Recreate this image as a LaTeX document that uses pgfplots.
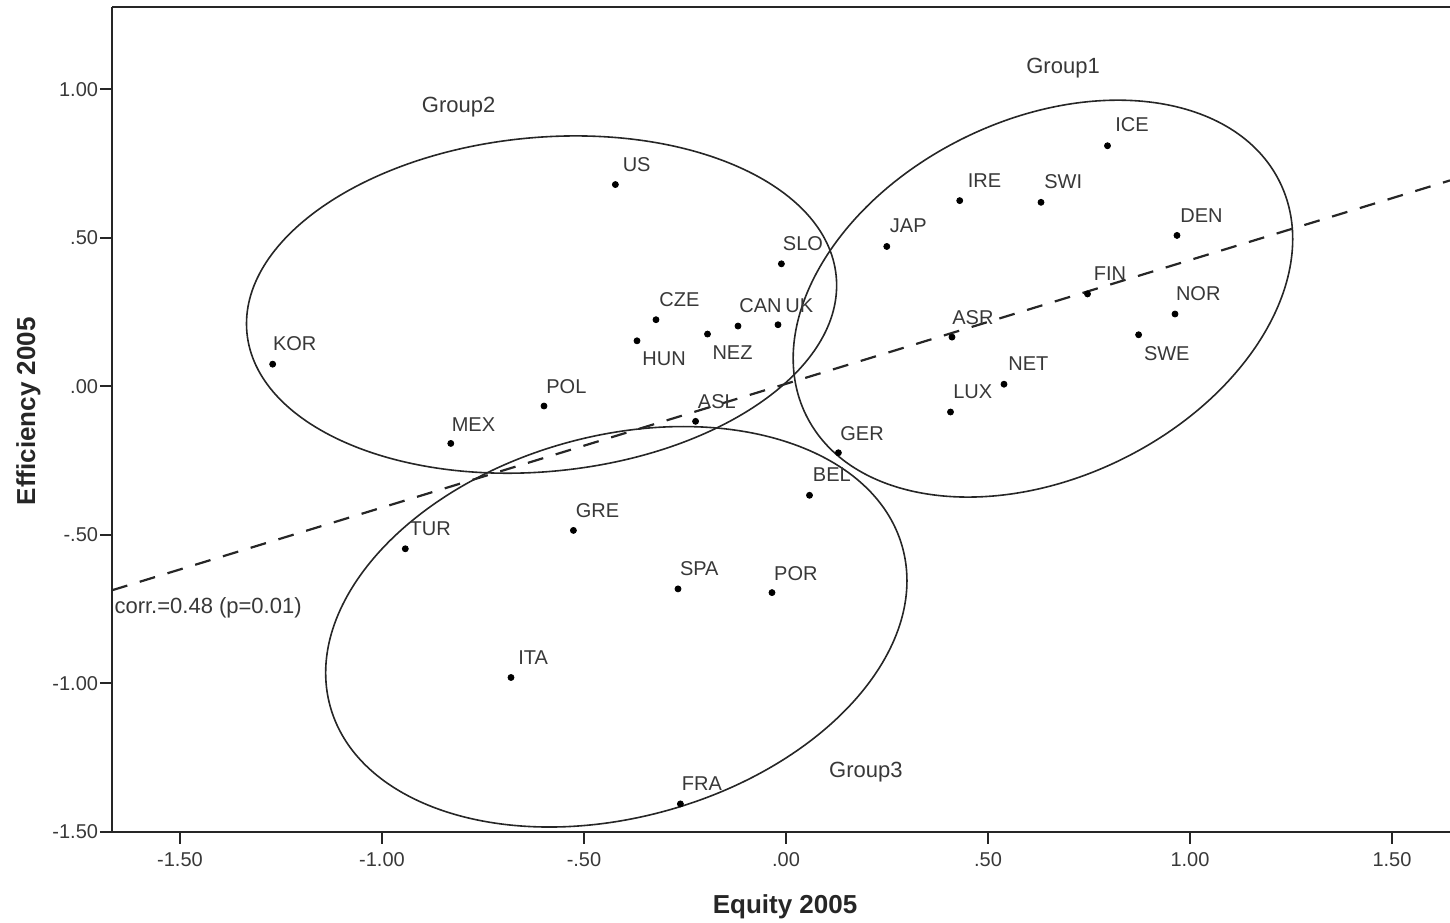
\documentclass[border=0pt]{standalone}
\usepackage{fontspec}
\setmainfont{Liberation Sans}
\usepackage{pgfplots}
\usepackage{pgfplotstable}
\pgfplotsset{compat=1.18}
\definecolor{txt}{HTML}{383838}
\definecolor{ln}{HTML}{262626}

\pgfplotstableread{
label x y dx dy
KOR -1.2706 0.0743 0.0 7.0
MEX -0.8297 -0.1926 0.3 6.0
POL -0.5990 -0.0666 1.0 6.5
US -0.4223 0.6791 3.5 6.5
CZE -0.3218 0.2240 1.5 6.7
HUN -0.3688 0.1530 2.5 -12.2
NEZ -0.1943 0.1757 2.3 -12.5
CAN -0.1188 0.2027 0.5 7.0
UK -0.0198 0.2071 3.5 6.3
SLO -0.0114 0.4122 0.6 6.7
ASL -0.2238 -0.1182 1.0 6.5
JAP 0.2495 0.4706 1.4 6.8
IRE 0.4300 0.6250 3.9 6.6
SWI 0.6312 0.6193 1.5 6.8
ICE 0.7958 0.8098 3.7 7.0
DEN 0.9678 0.5078 1.5 6.3
FIN 0.7463 0.3108 3.0 6.6
NOR 0.9629 0.2432 0.3 7.0
SWE 0.8728 0.1733 2.5 -12.7
ASR 0.4109 0.1655 0.0 6.5
NET 0.5396 0.0068 2.0 6.7
LUX 0.4072 -0.0868 1.2 6.7
GER 0.1297 -0.2240 0.8 6.3
BEL 0.0582 -0.3672 1.5 7.0
GRE -0.5262 -0.4855 1.0 6.7
TUR -0.9423 -0.5473 2.0 6.6
SPA -0.2673 -0.6824 0.8 6.6
POR -0.0347 -0.6949 0.9 6.3
ITA -0.6807 -0.9807 3.5 6.6
FRA -0.2614 -1.4064 0.6 6.6
}\countries

\begin{document}
\begin{tikzpicture}
\useasboundingbox (-56pt,-45.15pt) rectangle (669pt,415.85pt);
\begin{axis}[
  scale only axis,
  width=669pt, height=412.5pt,
  xmin=-1.6683, xmax=1.6436,
  ymin=-1.5, ymax=1.278,
  clip=false,
  axis lines*=left,
  axis line style={ln, line width=0.9pt},
  tick align=outside,
  major tick length=6pt,
  major tick style={ln, line width=0.8pt},
  xtick={-1.5,-1,-0.5,0,0.5,1,1.5},
  xticklabels={-1.50,-1.00,-.50,.00,.50,1.00,1.50},
  ytick={-1.5,-1,-0.5,0,0.5,1},
  yticklabels={-1.50,-1.00,-.50,.00,.50,1.00},
  ticklabel style={font=\fontsize{10}{12}\selectfont, text=txt},
  yticklabel style={inner xsep=0.8pt},
  xticklabel style={yshift=-1pt},
  xlabel={Equity 2005},
  ylabel={Efficiency 2005},
  xlabel style={at={(axis description cs:0.503,-0.0994)}, anchor=base, font=\fontsize{13}{15}\selectfont\bfseries, text=ln},
  ylabel style={at={(axis description cs:-0.0575,0.5097)}, anchor=base, rotate=0, font=\fontsize{13}{15}\selectfont\bfseries, text=ln},
]
% regression line
\addplot[ln, line width=1.1pt, dash pattern=on 8pt off 6.5pt] coordinates {(-1.6683,-0.687) (1.6436,0.693)};

% group ellipses
\draw[ln, line width=0.8pt, rotate around={5.5:(axis cs:-0.605,0.275)}] (axis cs:-0.605,0.275) ellipse [x radius=148pt, y radius=83.5pt];
\draw[ln, line width=0.8pt, rotate around={26.2:(axis cs:0.636,0.295)}] (axis cs:0.636,0.295) ellipse [x radius=132pt, y radius=89.5pt];
\draw[ln, line width=0.8pt, rotate around={15.6:(axis cs:-0.420,-0.810)}] (axis cs:-0.420,-0.810) ellipse [x radius=148.5pt, y radius=95.3pt];

% points
\addplot[only marks, mark=*, mark size=1.5pt, mark options={fill=black, draw=black},
  point meta=explicit symbolic,
  nodes near coords,
  visualization depends on={\thisrow{dx}\as\dx},
  visualization depends on={\thisrow{dy}\as\dy},
  every node near coord/.append style={anchor=base west, inner sep=0pt, xshift=\dx pt, yshift=\dy pt, font=\fontsize{10}{12}\selectfont, text=txt},
] table[x=x, y=y, meta=label] {\countries};

% annotations
\node[anchor=base west, font=\fontsize{11}{13}\selectfont, text=txt, inner sep=0pt] at (axis cs:0.594,1.054) {Group1};
\node[anchor=base west, font=\fontsize{11}{13}\selectfont, text=txt, inner sep=0pt] at (axis cs:-0.902,0.923) {Group2};
\node[anchor=base west, font=\fontsize{11}{13}\selectfont, text=txt, inner sep=0pt] at (axis cs:0.106,-1.318) {Group3};
\node[anchor=base west, font=\fontsize{11}{13}\selectfont, text=txt, inner sep=0pt] at (axis cs:-1.663,-0.765) {corr.=0.48 (p=0.01)};

% frame lines
\draw[ln, line width=0.9pt] (rel axis cs:0,1) -- (rel axis cs:1,1);
\draw[ln, line width=0.9pt] ([xshift=-6pt]rel axis cs:0,0) -- (rel axis cs:0,0);
\end{axis}
\end{tikzpicture}
\end{document}
